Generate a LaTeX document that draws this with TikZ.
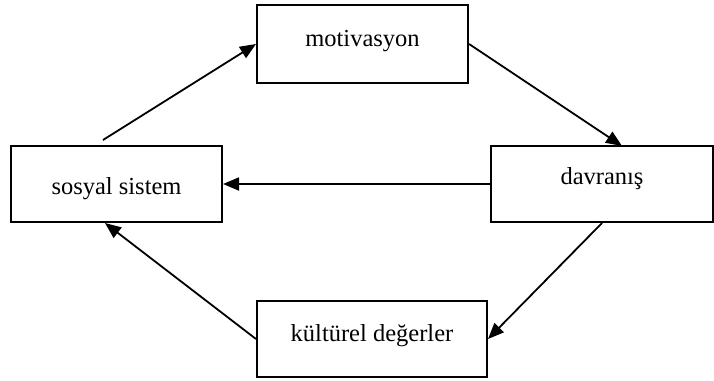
\documentclass[tikz,border=0pt]{standalone}
\usepackage{fontspec}
\setmainfont{Liberation Serif}
\usetikzlibrary{arrows.meta}
\tikzset{
  boxnode/.style={draw=black, line width=2pt, rectangle, inner sep=0pt,
    font=\fontsize{24.5pt}{28pt}\selectfont, text height=0.7em, text depth=0.2em},
  conn/.style={line width=1.8pt, -{Triangle[length=16pt,width=13pt]}}
}
\begin{document}
\begin{tikzpicture}[x=1pt,y=-1pt]
\useasboundingbox (0,0) rectangle (714,380);
\node[boxnode, minimum width=211pt, minimum height=78pt] (mot) at (362.5,44) {motivasyon};
\node[boxnode, minimum width=211pt, minimum height=76pt] (sos) at (116.5,184) {\raisebox{-8pt}{sosyal sistem}};
\node[boxnode, minimum width=222pt, minimum height=76pt] (dav) at (602,184) {\raisebox{2pt}{davranış}};
\node[boxnode, minimum width=230pt, minimum height=76pt] (kul) at (372,339) {kültürel değerler};
\coordinate (s1) at (103,140);
\coordinate (d1) at (622,146);
\coordinate (s2) at (105,223);
\draw[conn] (s1) -- (mot.west);
\draw[conn] (mot.east) -- (d1);
\draw[conn] (dav.west) -- (sos.east);
\draw[conn] (dav.south) -- (kul.east);
\draw[conn] (kul.west) -- (s2);
\end{tikzpicture}
\end{document}
